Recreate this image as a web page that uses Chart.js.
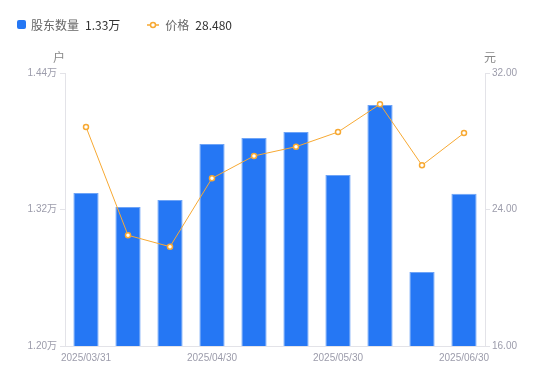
<!DOCTYPE html>
<html><head><meta charset="utf-8">
<script src="https://cdn.jsdelivr.net/npm/chart.js@4/dist/chart.umd.min.js"></script>
<style>
html,body{margin:0;padding:0;background:#fff;}
#wrap{position:relative;width:550px;height:381px;}
#c{position:absolute;left:0;top:0;}
#legend{position:absolute;left:17px;top:16px;font-family:"Noto Sans CJK SC","Liberation Sans",sans-serif;font-size:12px;display:flex;align-items:center;white-space:nowrap;}
.sw{display:inline-block;width:9px;height:9px;background:#2577F4;border-radius:2px;margin-right:5px;}
.lab{color:#666;margin-right:6px;}
.val{color:#333;}
.li{display:flex;align-items:center;}
</style></head>
<body><div id="wrap"><canvas id="c" width="550" height="381"></canvas>
<div id="legend"></div></div>
<script>
const categories = ["2025/03/31","2025/04/10","2025/04/18","2025/04/30","2025/05/09","2025/05/20","2025/05/30","2025/06/10","2025/06/20","2025/06/30"];
const holders = [1.3345,1.3222,1.3284,1.3776,1.3829,1.3881,1.3503,1.4119,1.2650,1.3339]; // 万户
const prices = [28.84,22.49,21.82,25.83,27.14,27.68,28.54,30.17,26.59,28.48];
const leftTicks = [1.20,1.32,1.44];
const rightTicks = [16,24,32];
const seriesNames = ["股东数量","价格"];
const legendValues = ["1.33万","28.480"];
const axisUnits = ["户","元"];

const BLUE = '#2577F4', ORANGE = '#F7A933', TICK = '#9c9cab', LINE = '#e3e3e8';
const FONT = '"Liberation Sans", "Noto Sans CJK SC", sans-serif';

document.getElementById('legend').innerHTML =
  '<span class="li"><span class="sw"></span><span class="lab">'+seriesNames[0]+'</span><span class="val">'+legendValues[0]+'</span></span>'+
  '<span class="li" style="margin-left:27px"><svg width="12" height="8" style="margin-right:6px"><line x1="0" y1="4" x2="12" y2="4" stroke="'+ORANGE+'" stroke-width="1.5"/><circle cx="6" cy="4" r="2.5" fill="#fff" stroke="'+ORANGE+'" stroke-width="1.5"/></svg><span class="lab">'+seriesNames[1]+'</span><span class="val">'+legendValues[1]+'</span></span>';

const unitPlugin = {
  id:'units',
  afterDraw(chart){
    const ctx = chart.ctx, l = chart.scales.yL, r = chart.scales.yR;
    ctx.save();
    ctx.font = '12px "Noto Sans CJK SC", sans-serif';
    ctx.fillStyle = '#888';
    ctx.textAlign='center'; ctx.textBaseline='middle';
    ctx.fillText(axisUnits[0], l.right-6, l.top-16);
    ctx.fillText(axisUnits[1], r.left+5, r.top-16);
    ctx.restore();
  }
};

new Chart(document.getElementById('c'), {
  data:{
    labels: categories,
    datasets:[
      {type:'line', label:seriesNames[1], data:prices, yAxisID:'yR', borderColor:ORANGE, borderWidth:1,
       pointRadius:2.5, pointBorderWidth:1.5, pointBackgroundColor:'#fff', pointBorderColor:ORANGE, tension:0, order:0},
      {type:'bar', label:seriesNames[0], data:holders, yAxisID:'yL', backgroundColor:BLUE, borderColor:'#6ea4f7',
       borderWidth:{top:1,left:1,right:1,bottom:0}, barPercentage:0.6, categoryPercentage:1, order:1}
    ]
  },
  options:{
    responsive:false, animation:false,
    layout:{padding:{top:73,left:0,right:0,bottom:0}},
    plugins:{legend:{display:false}, tooltip:{enabled:false}},
    scales:{
      x:{
        grid:{display:false, drawTicks:false},
        border:{display:true,color:LINE},
        ticks:{color:TICK,font:{size:10,family:FONT},maxRotation:0,autoSkip:false,padding:6,
          callback:(v,i)=> i%3===0 ? categories[i] : ''},
        afterFit(s){s.height=35;}
      },
      yL:{
        position:'left', min:1.20, max:1.44,
        afterBuildTicks(s){s.ticks = leftTicks.map(v=>({value:v}));},
        grid:{drawOnChartArea:false, drawTicks:true, tickLength:5, color:LINE},
        border:{display:true,color:LINE},
        ticks:{color:TICK,font:{size:10,family:FONT},padding:3,callback:v=>v.toFixed(2)+'万'},
        afterFit(s){s.width=65;}
      },
      yR:{
        position:'right', min:16, max:32,
        afterBuildTicks(s){s.ticks = rightTicks.map(v=>({value:v}));},
        grid:{drawOnChartArea:false, drawTicks:true, tickLength:5, color:LINE},
        border:{display:true,color:LINE},
        ticks:{color:TICK,font:{size:10,family:FONT},padding:2,callback:v=>v.toFixed(2)},
        afterFit(s){s.width=65;}
      }
    }
  },
  plugins:[unitPlugin]
});
</script></body></html>
